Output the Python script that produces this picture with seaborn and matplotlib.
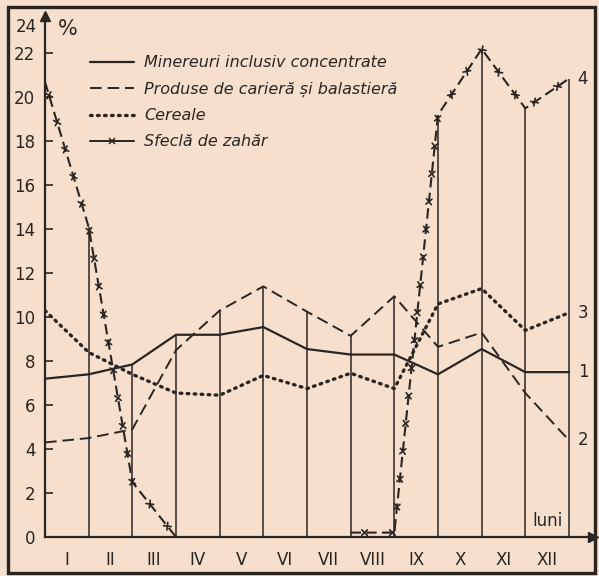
#!/usr/bin/env python3
"""
Monthly share (%) of four freight groups, redrawn from an old printed chart.
"""

import numpy as np
import pandas as pd
import matplotlib
matplotlib.use("Agg")
import matplotlib.pyplot as plt
from matplotlib import patheffects as pe
from matplotlib.lines import Line2D
from matplotlib.patches import Rectangle
import seaborn as sns

# month boundaries: 0 = start of January ... 12 = end of December
months = np.arange(13)
month_labels = ["I", "II", "III", "IV", "V", "VI", "VII", "VIII", "IX", "X", "XI", "XII"]

minereuri = [7.2, 7.4, 7.85, 9.2, 9.2, 9.55, 8.55, 8.3, 8.3, 7.4, 8.55, 7.5, 7.5]
produse = [4.3, 4.5, 4.9, 8.5, 10.3, 11.4, 10.25, 9.15, 10.95, 8.65, 9.3, 6.55, 4.4]
cereale = [10.3, 8.4, 7.4, 6.55, 6.45, 7.35, 6.75, 7.45, 6.75, 10.6, 11.3, 9.4, 10.2]
sfecla = [20.7, 14.1, 2.5, 0.0, np.nan, np.nan, np.nan, 0.2, 0.2, 19.2, 22.2, 19.5, 20.85]

series_names = ["Minereuri inclusiv concentrate",
                "Produse de carieră și balastieră",
                "Cereale",
                "Sfeclă de zahăr"]
end_labels = ["1", "2", "3", "4"]

PAPER = "#f6dfcd"
INK = "#2b2522"

sns.set_theme(style="ticks")
plt.rcParams["font.family"] = ["DejaVu Sans"]


def draw_runs(ax, y, **kw):
    """Draw a series with seaborn, breaking the line where values are missing."""
    df = pd.DataFrame({"luna": months, "val": y})
    ok = df["val"].notna()
    run_id = (~ok).cumsum()
    for _, part in df[ok].groupby(run_id[ok]):
        sns.lineplot(data=part, x="luna", y="val", ax=ax, legend=False,
                     estimator=None, sort=False, color=INK, **kw)


fig = plt.figure(figsize=(5.99, 5.76), dpi=100, facecolor=PAPER)
ax = fig.add_axes([45 / 599, 39 / 576, 548 / 599, 521 / 576])
ax.set_facecolor(PAPER)

# drop lines from the highest value at each month boundary
tops = np.nanmax(np.vstack([minereuri, produse, cereale, sfecla]), axis=0)
ax.vlines(months[1:], 0, tops[1:], color=INK, lw=1.1)

solid_kw = dict(linewidth=1.6, linestyle="-")
dash_kw = dict(linewidth=1.4, linestyle=(0, (6, 3)))
dot_kw = dict(linewidth=2.4, linestyle=(0, (0.5, 1.6)), dash_capstyle="round")
sfecla_kw = dict(linewidth=1.5, linestyle=(0, (5, 2.5)))

draw_runs(ax, minereuri, **solid_kw)
draw_runs(ax, produse, **dash_kw)
draw_runs(ax, cereale, **dot_kw)
draw_runs(ax, sfecla, **sfecla_kw)

# small crosses strung along the sugar-beet line (only the ticks are drawn)
cross = [pe.TickedStroke(spacing=20, angle=a, length=0.14) for a in (45, 135, -45, -135)]
draw_runs(ax, sfecla, linewidth=1.2, linestyle="-", path_effects=cross)

# numbers at the right end of each line
for lab, ser in zip(end_labels, [minereuri, produse, cereale, sfecla]):
    ax.text(months[-1] + 0.2, ser[-1], lab, fontsize=12, color=INK,
            ha="left", va="center")

ax.set_xlim(0, 12.55)
ax.set_ylim(0, 23.7)
ax.set_xticks(np.arange(12) + 0.5)
ax.set_xticklabels(month_labels)
ax.set_yticks(np.arange(0, 23, 2))
ax.tick_params(axis="x", length=0, pad=10, labelsize=12, colors=INK)
ax.tick_params(axis="y", direction="in", length=6, width=1.2, pad=7,
               labelsize=12, colors=INK)
ax.set_xlabel("")
ax.set_ylabel("")
for side in ["top", "right"]:
    ax.spines[side].set_visible(False)
for side in ["left", "bottom"]:
    ax.spines[side].set_linewidth(1.6)
    ax.spines[side].set_color(INK)

# axis arrows
ax.plot([1], [0], marker=">", ms=7, color=INK, transform=ax.transAxes, clip_on=False)
ax.plot([0], [1], marker="^", ms=7, color=INK, transform=ax.transAxes, clip_on=False)

ax.text(-0.18, 23.2, "24", fontsize=12, color=INK, ha="right", va="center")
ax.text(0.3, 23.1, "%", fontsize=15, color=INK, ha="left", va="center")
ax.text(11.5, 0.3, "luni", fontsize=12, color=INK, ha="center", va="bottom")

handles = [
    Line2D([], [], color=INK, **solid_kw),
    Line2D([], [], color=INK, **dash_kw),
    Line2D([], [], color=INK, **dot_kw),
    Line2D([], [], color=INK, linewidth=1.4, marker="x", markersize=5,
           markeredgewidth=1.1),
]
leg = ax.legend(handles, series_names, loc="upper left", bbox_to_anchor=(0.067, 0.94),
                frameon=False, handlelength=2.8, handletextpad=0.6,
                labelspacing=0.7, borderpad=0,
                prop={"style": "italic", "size": 11.5})
for t in leg.get_texts():
    t.set_color(INK)

# printed frame round the whole figure
fig.patches.append(Rectangle((8 / 599, 3 / 576), 587 / 599, 566 / 576,
                             transform=fig.transFigure, fill=False,
                             edgecolor=INK, linewidth=2.4))

fig.savefig("out.png", dpi=100, facecolor=PAPER)
